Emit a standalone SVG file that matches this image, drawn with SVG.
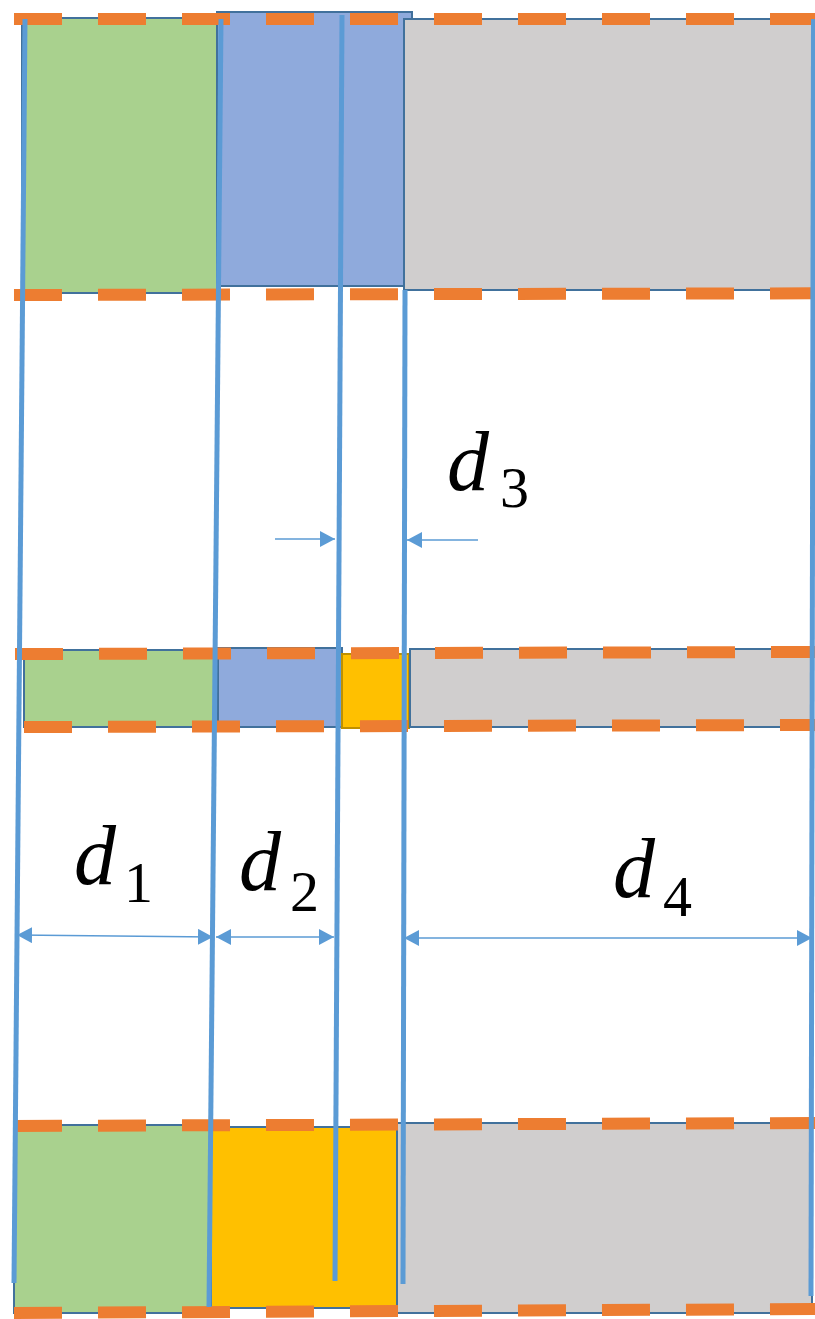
<svg xmlns="http://www.w3.org/2000/svg" width="815" height="1319" viewBox="0 0 815 1319">
<style>
.g{fill:#A9D18E;stroke:#41719C;stroke-width:2}
.b{fill:#8FAADC;stroke:#41719C;stroke-width:2}
.s{fill:#D0CECE;stroke:#41719C;stroke-width:2}
.y{fill:#FFC000;stroke:#BF9000;stroke-width:2}
.yb{fill:#FFC000;stroke:#41719C;stroke-width:2}
.d{stroke:#ED7D31;stroke-width:12;stroke-dasharray:48 36;fill:none}
.v{stroke:#5B9BD5;stroke-width:5;fill:none}
.a{stroke:#5B9BD5;stroke-width:1.5;fill:none}
.m{font-family:"Liberation Serif","DejaVu Serif",serif;font-style:italic;font-size:84px;fill:#000}
.n{font-family:"Liberation Serif","DejaVu Serif",serif;font-size:58px;fill:#000}
</style>
<defs>
<marker id="ah" markerUnits="userSpaceOnUse" markerWidth="16" markerHeight="16" refX="15" refY="8" orient="auto-start-reverse" viewBox="0 0 16 16">
<path d="M0,0 L15,8 L0,16 z" fill="#5B9BD5"/>
</marker>
</defs>
<rect width="815" height="1319" fill="#FFFFFF"/>
<g id="row-top">
<rect id="top-green" class="g" x="22" y="18" width="196" height="275"/>
<rect id="top-blue" class="b" x="217" y="12" width="195" height="274"/>
<rect id="top-grey" class="s" x="404" y="19" width="409" height="271"/>
</g>
<g id="row-mid">
<rect id="mid-green" class="g" x="24" y="650" width="194" height="77"/>
<rect id="mid-blue" class="b" x="218" y="648" width="124" height="79"/>
<rect id="mid-yellow" class="y" x="342" y="654" width="67" height="74"/>
<rect id="mid-grey" class="s" x="410" y="649" width="403" height="78"/>
</g>
<g id="row-bot">
<rect id="bot-green" class="g" x="14" y="1125" width="197" height="188"/>
<rect id="bot-yellow" class="yb" x="211" y="1127" width="186" height="181"/>
<rect id="bot-grey" class="s" x="397" y="1123" width="415" height="190"/>
</g>
<g id="dashes">
<line class="d" x1="14" y1="19" x2="815" y2="19"/>
<line class="d" x1="14" y1="295" x2="815" y2="293.3"/>
<line class="d" x1="15" y1="654" x2="815" y2="652"/>
<line class="d" x1="24" y1="727" x2="815" y2="725"/>
<line class="d" x1="14" y1="1126" x2="815" y2="1123"/>
<line class="d" x1="14" y1="1313" x2="815" y2="1309"/>
</g>
<g id="connectors">
<line class="v" x1="25" y1="19" x2="14" y2="1283"/>
<line class="v" x1="221" y1="19" x2="209" y2="1307"/>
<line class="v" x1="342" y1="15" x2="335" y2="1281"/>
<line class="v" x1="405" y1="290" x2="403" y2="1284"/>
<line class="v" x1="813.5" y1="19" x2="811" y2="1296"/>
<line class="a" x1="17" y1="935" x2="213" y2="937" marker-start="url(#ah)" marker-end="url(#ah)"/>
<line class="a" x1="216" y1="937" x2="334" y2="937" marker-start="url(#ah)" marker-end="url(#ah)"/>
<line class="a" x1="404" y1="938" x2="812" y2="938" marker-start="url(#ah)" marker-end="url(#ah)"/>
<line class="a" x1="275" y1="539" x2="335" y2="539" marker-end="url(#ah)"/>
<line class="a" x1="478" y1="540" x2="407" y2="540" marker-end="url(#ah)"/>
</g>
<g id="labels">
<g id="label-d1"><text class="m" x="74" y="884">d</text><text class="n" x="124" y="902">1</text></g>
<g id="label-d2"><text class="m" x="239" y="890">d</text><text class="n" x="290" y="911">2</text></g>
<g id="label-d3"><text class="m" x="447" y="490">d</text><text class="n" x="500" y="507">3</text></g>
<g id="label-d4"><text class="m" x="613" y="897">d</text><text class="n" x="663" y="916">4</text></g>
</g>
</svg>
